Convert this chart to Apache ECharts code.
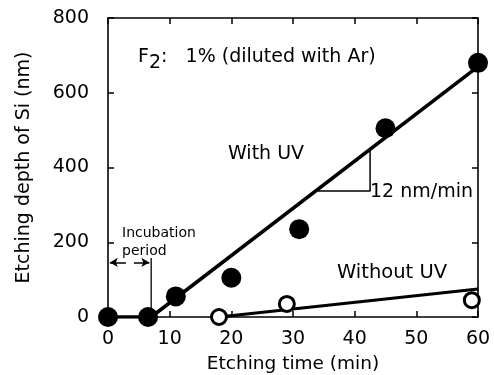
<!DOCTYPE html>
<html>
<head>
<meta charset="utf-8">
<script src="https://cdn.jsdelivr.net/npm/echarts@6/dist/echarts.min.js"></script>
<style>html,body{margin:0;padding:0;background:#fff}#c{width:494px;height:375px}</style>
</head>
<body>
<div id="c"></div>
<script>
// Data
var xTicks = [0, 10, 20, 30, 40, 50, 60];
var yTicks = [0, 200, 400, 600, 800];
var withUVTime = [0, 6.5, 11, 20, 31, 45, 60];
var withUVDepth = [0, 0, 55, 105, 235, 505, 680];
var withoutUVTime = [18, 29, 59];
var withoutUVDepth = [0, 35, 45];
var withUVFitTime = [0, 7, 60];
var withUVFitDepth = [0, 0, 670];
var withoutUVFitTime = [18, 60];
var withoutUVFitDepth = [0, 75];
var slopeTriTime = [34, 42.5, 42.5];
var slopeTriDepth = [337, 337, 445];
var incubationLineTime = [7, 7];
var incubationLineDepth = [0, 158];

function pairs(xs, ys) { return xs.map(function (x, i) { return [x, ys[i]]; }); }

var FONT = 'DejaVu Sans';
var chart = echarts.init(document.getElementById('c'), null, {renderer: 'canvas'});
function axisLine() { return {show: true, onZero: false, lineStyle: {color: '#000', width: 1.6}}; }
function axisTick() { return {show: true, inside: true, length: 6, lineStyle: {color: '#000', width: 1.5}}; }

chart.setOption({
  animation: false,
  backgroundColor: '#fff',
  grid: {left: 108, right: 16, top: 18, bottom: 58, containLabel: false, outerBoundsMode: 'none'},
  xAxis: [{
    type: 'value', position: 'bottom', min: xTicks[0], max: xTicks[xTicks.length - 1], interval: 10,
    axisLine: axisLine(), axisTick: axisTick(), splitLine: {show: false},
    axisLabel: {color: '#000', fontSize: 19, fontFamily: FONT, margin: 13},
    name: 'Etching time (min)', nameLocation: 'middle', nameGap: 38,
    nameTextStyle: {color: '#000', fontSize: 18.5, fontFamily: FONT}
  }, {
    type: 'value', position: 'top', min: 0, max: 60, interval: 10,
    axisLine: axisLine(), axisTick: axisTick(), splitLine: {show: false}, axisLabel: {show: false}
  }],
  yAxis: [{
    type: 'value', position: 'left', min: yTicks[0], max: yTicks[yTicks.length - 1], interval: 200,
    axisLine: axisLine(), axisTick: axisTick(), splitLine: {show: false},
    axisLabel: {color: '#000', fontSize: 19, fontFamily: FONT, margin: 19},
    name: 'Etching depth of Si (nm)', nameLocation: 'middle', nameGap: 74, nameRotate: 90,
    nameTextStyle: {color: '#000', fontSize: 19, fontFamily: FONT}
  }, {
    type: 'value', position: 'right', min: 0, max: 800, interval: 200,
    axisLine: axisLine(), axisTick: axisTick(), splitLine: {show: false}, axisLabel: {show: false}
  }],
  series: [
    {type: 'line', data: pairs(withUVFitTime, withUVFitDepth), showSymbol: false, symbol: 'none',
     lineStyle: {color: '#000', width: 3.6}, z: 2},
    {type: 'line', data: pairs(withoutUVFitTime, withoutUVFitDepth), showSymbol: false, symbol: 'none',
     lineStyle: {color: '#000', width: 3.2}, z: 2},
    {type: 'line', data: pairs(slopeTriTime, slopeTriDepth), showSymbol: false, symbol: 'none',
     lineStyle: {color: '#000', width: 1.5}, z: 2},
    {type: 'line', data: pairs(incubationLineTime, incubationLineDepth), showSymbol: false, symbol: 'none',
     lineStyle: {color: '#000', width: 1.3}, z: 2,
     markLine: {silent: true, symbol: ['none', 'arrow'], symbolSize: [7, 8], label: {show: false},
       lineStyle: {color: '#000', width: 1.5, type: 'solid'},
       data: [
         [{coord: [2.9, 146]}, {coord: [0.3, 146]}],
         [{coord: [4.2, 146]}, {coord: [6.7, 146]}]
       ]}},
    {type: 'scatter', data: pairs(withUVTime, withUVDepth), symbol: 'circle', symbolSize: 20,
     itemStyle: {color: '#000', opacity: 1}, z: 4},
    {type: 'scatter', data: pairs(withoutUVTime, withoutUVDepth), symbol: 'circle', symbolSize: 15,
     itemStyle: {color: '#fff', borderColor: '#000', borderWidth: 3, opacity: 1}, z: 4}
  ],
  graphic: [
    {type: 'text', left: 138, top: 48, z: 10,
     style: {text: 'F{s|2}:   1% (diluted with Ar)', fill: '#000', font: '19px ' + FONT,
       rich: {s: {fontSize: 19, fontFamily: FONT, fill: '#000', padding: [12, 0, 0, 0]}}}},
    {type: 'text', left: 228, top: 145, z: 10,
     style: {text: 'With UV', fill: '#000', font: '19px ' + FONT}},
    {type: 'text', left: 337, top: 263, z: 10,
     style: {text: 'Without UV', fill: '#000', font: '19.5px ' + FONT}},
    {type: 'text', left: 370, top: 183, z: 10,
     style: {text: '12 nm/min', fill: '#000', font: '19px ' + FONT}},
    {type: 'text', left: 122, top: 224, z: 10,
     style: {text: 'Incubation\nperiod', fill: '#000', font: '14px ' + FONT, lineHeight: 18}}
  ]
});
</script>
</body>
</html>
